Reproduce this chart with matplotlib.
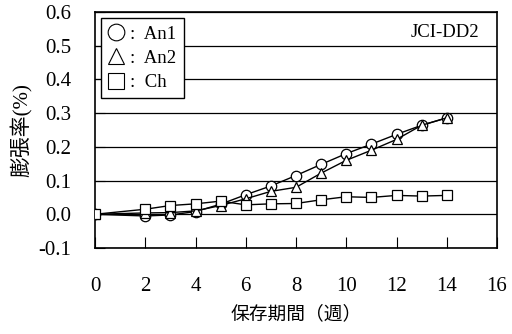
import numpy as np
import matplotlib.pyplot as plt

plt.rcParams['font.family'] = ['Liberation Serif', 'Noto Sans CJK JP']

# storage period (weeks) and expansion ratio (%)
weeks = [0, 2, 3, 4, 5, 6, 7, 8, 9, 10, 11, 12, 13, 14]
an1 = [0.000, -0.005, -0.002, 0.008, 0.030, 0.058, 0.084, 0.115,
       0.148, 0.180, 0.208, 0.237, 0.264, 0.286]
an2 = [0.000, 0.004, 0.005, 0.010, 0.026, 0.046, 0.068, 0.080,
       0.122, 0.160, 0.190, 0.222, 0.264, 0.286]
ch = [0.000, 0.015, 0.026, 0.031, 0.039, 0.028, 0.031, 0.032,
      0.043, 0.052, 0.050, 0.056, 0.054, 0.056]

fig = plt.figure(figsize=(5.12, 3.34), dpi=100)
ax = fig.add_axes([95/512, 1-248/334, 402/512, 236/334])

style = dict(color='black', lw=1.0, markerfacecolor='white',
             markeredgecolor='black', markeredgewidth=0.9, markersize=7.5)
h1, = ax.plot(weeks, an1, marker='o', zorder=3, **style)
h2, = ax.plot(weeks, an2, marker='^', zorder=4, **style)
h3, = ax.plot(weeks, ch, marker='s', zorder=5, **style)

ax.set_xlim(0, 16)
ax.set_ylim(-0.1, 0.6)
ax.set_xticks(range(0, 17, 2))
ax.set_yticks(np.arange(-0.1, 0.61, 0.1))
ax.set_yticklabels(['-0.1', '0.0', '0.1', '0.2', '0.3', '0.4', '0.5', '0.6'])
ax.tick_params(axis='x', direction='in', length=8, width=0.8, pad=21,
               labelsize=15)
ax.tick_params(axis='y', direction='in', length=7, width=0.8, pad=17,
               labelsize=15)
ax.yaxis.grid(True, color='black', lw=0.9)
ax.set_axisbelow(True)
for s in ax.spines.values():
    s.set_linewidth(1.2)

ax.set_xlabel('保存期間（週）', fontsize=13.5, labelpad=5,
              family='Noto Sans CJK JP')
ax.set_ylabel('膨張率(%)', fontsize=15, labelpad=4)

ax.text(0.955, 0.915, 'JCI-DD2', transform=ax.transAxes, ha='right',
        va='center', fontsize=13.5)

leg = ax.legend([h1, h2, h3], [':  An1', ':  An2', ':  Ch'], loc='upper left',
                bbox_to_anchor=(0.014, 0.973), borderaxespad=0,
                fancybox=False, framealpha=1, edgecolor='black',
                fontsize=13.5, handlelength=0.9, handletextpad=0.3,
                labelspacing=0.38, borderpad=0.38)
for line in leg.get_lines():
    line.set_linestyle('none')
    line.set_markersize(12)
    line.set_markeredgewidth(0.8)
leg.get_frame().set_linewidth(1.0)
leg.set_zorder(10)

fig.savefig('out.png', dpi=100)
